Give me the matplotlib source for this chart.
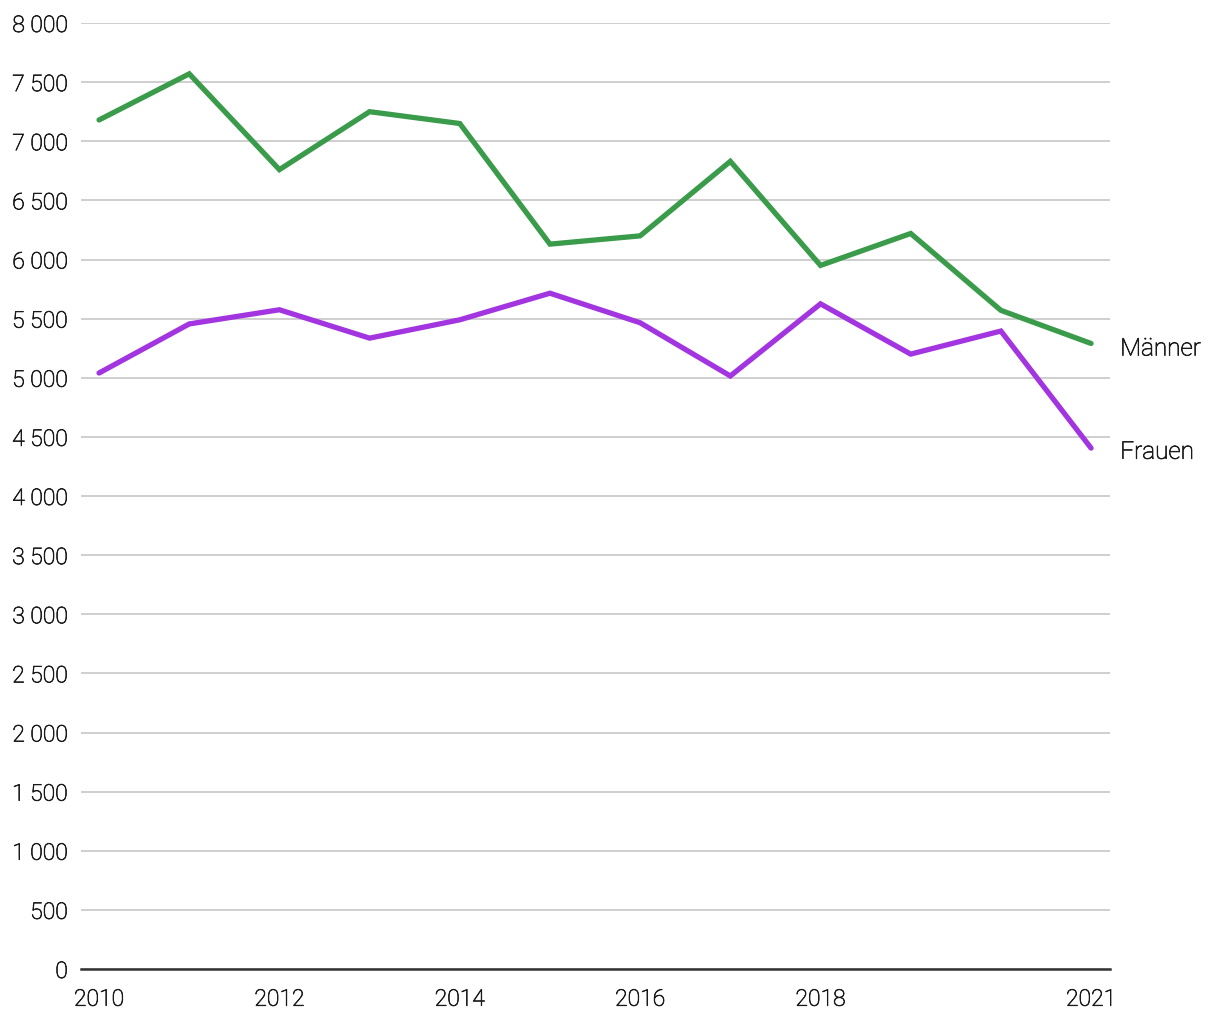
import matplotlib
matplotlib.use("Agg")
import matplotlib.pyplot as plt
import matplotlib.patheffects as pe
from matplotlib.ticker import FuncFormatter

years = [2010, 2011, 2012, 2013, 2014, 2015, 2016, 2017, 2018, 2019, 2020, 2021]
maenner = [7180, 7570, 6760, 7250, 7150, 6130, 6200, 6830, 5950, 6220, 5570, 5290]
frauen = [5040, 5455, 5575, 5335, 5490, 5715, 5465, 5015, 5625, 5200, 5395, 4405]
xticks = [2010, 2012, 2014, 2016, 2018, 2021]
yticks = list(range(0, 8001, 500))

plt.rcParams['font.family'] = ['Roboto', 'DejaVu Sans']
plt.rcParams['font.weight'] = 'light'

fig = plt.figure(figsize=(12.2, 10.2), dpi=100)
ax = fig.add_axes([81/1220, 1-970/1020, (1110-81)/1220, (970-24)/1020])

green = '#3a9b4b'
purple = '#a235e0'
txt = '#1a1a1a'
ax.plot(years, maenner, color=green, lw=3.8, solid_capstyle='round', solid_joinstyle='miter', zorder=3)
ax.plot(years, frauen, color=purple, lw=3.8, solid_capstyle='round', solid_joinstyle='miter', zorder=3)

ax.set_xlim(2009.8, 2021.21)
ax.set_ylim(0, 8000)
ax.set_yticks(yticks)
ax.set_xticks(xticks)
ax.yaxis.set_major_formatter(FuncFormatter(lambda v, p: f"{int(v):,}".replace(",", " ")))
ax.grid(axis='y', color='#cccccc', lw=1.3, zorder=0)
ax.set_axisbelow(True)
for s in ['top', 'right', 'left']:
    ax.spines[s].set_visible(False)
ax.spines['bottom'].set_color('#333333')
ax.spines['bottom'].set_linewidth(1.8)
ax.spines['bottom'].set_zorder(4)
ax.tick_params(axis='both', length=0, labelsize=16.5, colors=txt)
ax.tick_params(axis='y', pad=9.5)
ax.tick_params(axis='x', pad=13.5)
stroke = [pe.withStroke(linewidth=0.5, foreground=txt)]
for lbl in ax.get_xticklabels() + ax.get_yticklabels():
    lbl.set_fontweight('light')
    lbl.set_path_effects(stroke)

for name, vals, dy in [('Männer', maenner, -4), ('Frauen', frauen, -3)]:
    ax.annotate(name, (years[-1], vals[-1]), xytext=(21, dy), textcoords='offset points',
                va='center', ha='left', fontsize=17.5, color=txt, fontweight='light',
                annotation_clip=False, path_effects=stroke)

fig.savefig('out.png', dpi=100)
